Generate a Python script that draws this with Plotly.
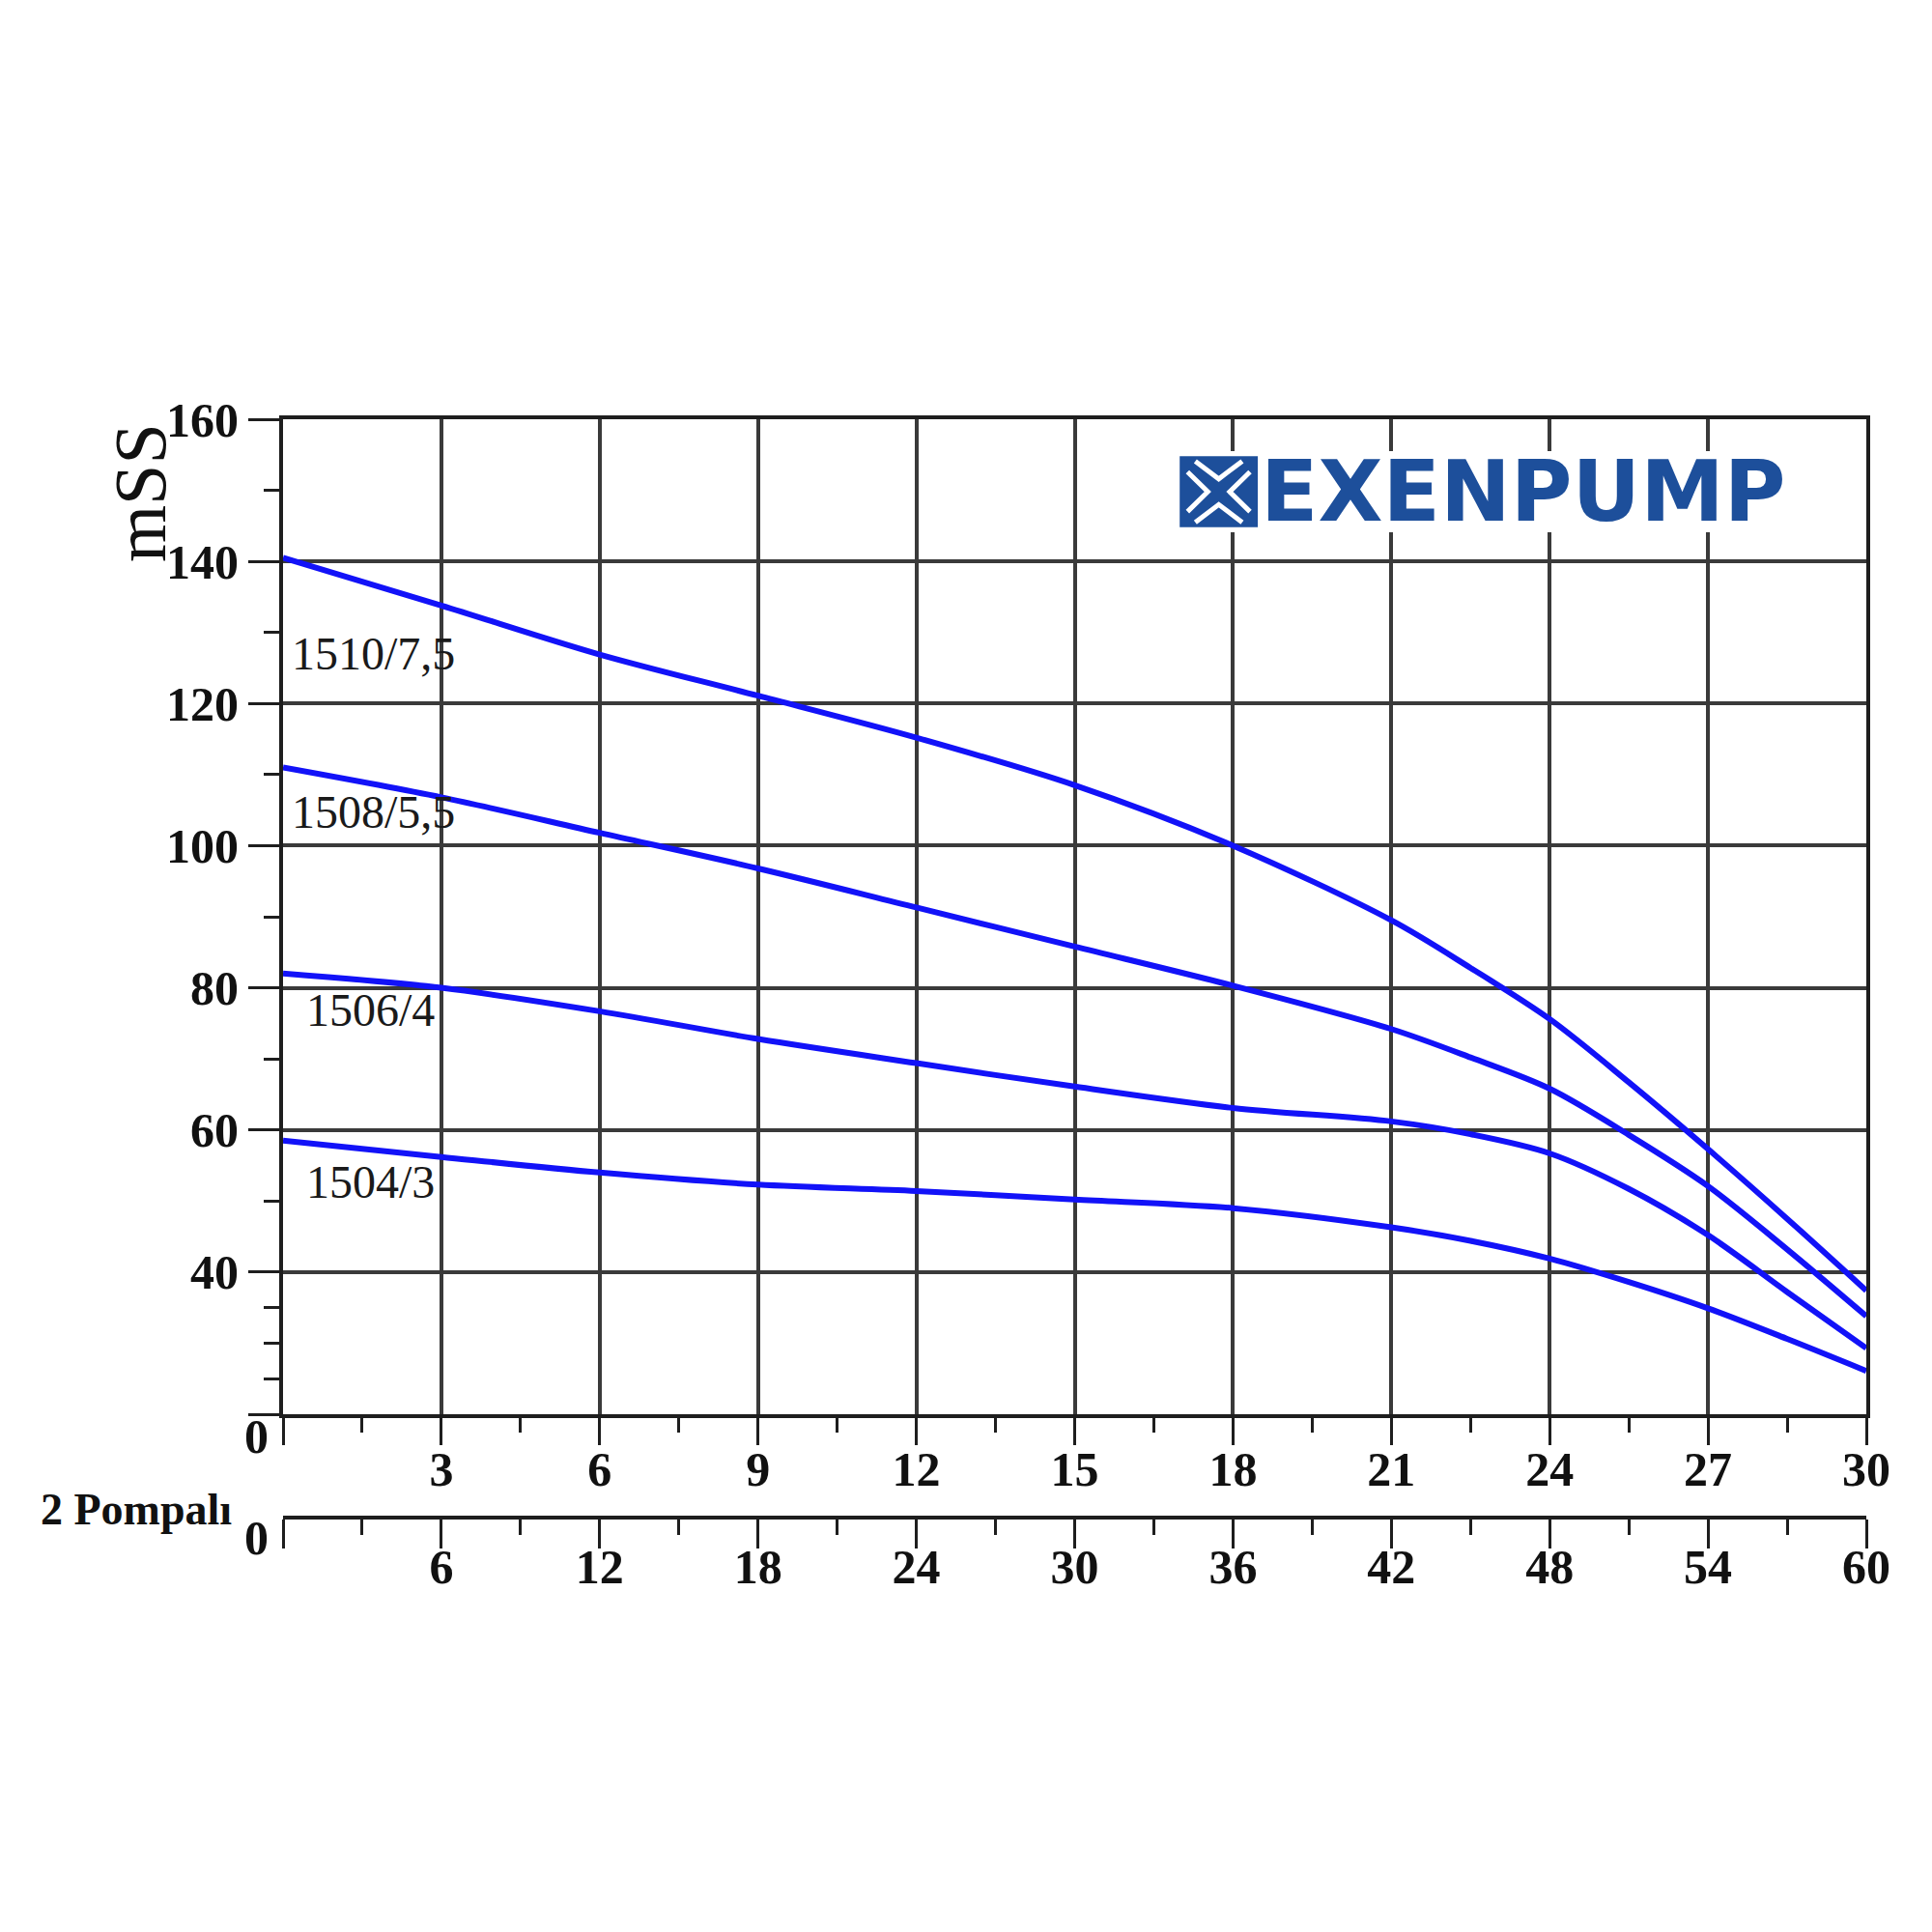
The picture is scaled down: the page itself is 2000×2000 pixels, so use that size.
import plotly.graph_objects as go

# ---------------- data ----------------
flow = [0, 3, 6, 9, 12, 15, 18, 21, 22.5, 24, 25.5, 27, 28.5, 30]          # m3/h (1 pump)
head_1510 = [140.5, 133.8, 126.9, 121.1, 115.2, 108.5, 100.0, 89.5, 82.8, 75.6, 66.7, 57.3, 47.5, 37.4]
head_1508 = [111.0, 106.8, 101.8, 96.8, 91.3, 85.8, 80.3, 74.2, 70.2, 65.8, 59.3, 52.1, 43.2, 33.8]
head_1506 = [82.0, 80.0, 76.7, 72.8, 69.4, 66.1, 63.1, 61.2, 59.4, 56.7, 51.7, 45.2, 37.2, 29.3]
head_1504 = [58.5, 56.2, 54.0, 52.3, 51.4, 50.2, 49.0, 46.3, 44.4, 41.9, 38.6, 34.9, 30.6, 26.1]

series_names = ["1510/7,5", "1508/5,5", "1506/4", "1504/3"]
series_values = [head_1510, head_1508, head_1506, head_1504]
label_pos = [(0.12, 127.0), (0.12, 104.8), (0.4, 76.9), (0.4, 52.7)]

x_ticks = [0, 3, 6, 9, 12, 15, 18, 21, 24, 27, 30]
x_minor = [1.5, 4.5, 7.5, 10.5, 13.5, 16.5, 19.5, 22.5, 25.5, 28.5]
x2_ticks = [0, 6, 12, 18, 24, 30, 36, 42, 48, 54, 60]
x2_minor = [3, 9, 15, 21, 27, 33, 39, 45, 51, 57]
y_ticks = [20, 40, 60, 80, 100, 120, 140, 160]
y_minor = [25, 30, 35, 50, 70, 90, 110, 130, 150]

# ---------------- styles ----------------
BLUE = "#1212f8"
GRID = "#3a3a3a"
AX = "#1e1e1e"
SERIF = "Liberation Serif"
tickfont = dict(family=SERIF, size=50, color="#111111", weight="bold")

fig = go.Figure()
for name, vals in zip(series_names, series_values):
    fig.add_trace(go.Scatter(x=flow, y=vals, mode="lines", name=name,
                             line=dict(color=BLUE, width=6, shape="spline", smoothing=0.9),
                             showlegend=False, hoverinfo="skip"))

# helper trace so the second (2 pumps) axis is drawn
fig.add_trace(go.Scatter(x=[q * 2 for q in flow], y=head_1504, xaxis="x2", yaxis="y",
                         mode="none", showlegend=False, hoverinfo="skip"))

# labels of curves
for name, (lx, ly) in zip(series_names, label_pos):
    fig.add_annotation(x=lx, y=ly, xref="x", yref="y", text=name, showarrow=False,
                       xanchor="left", yanchor="middle",
                       font=dict(family=SERIF, size=48, color="#1a1a1a"))

# layout geometry (pixels in the final image; page body has an 8px margin)
OFF = 8
W = H = 2000
L, R, T = 293, 1932, 434
B_MAIN = 1464
B2 = 1571
paper_h = B2 - T
paper_w = R - L
ydom0 = (B2 - B_MAIN) / paper_h

def px(xp):
    return (xp - L) / paper_w

def py(yp):
    return (B2 - yp) / paper_h

def ann_paper(xp, yp, text, font, **kw):
    fig.add_annotation(x=px(xp), y=py(yp), xref="paper", yref="paper", text=text,
                       showarrow=False, font=font,
                       **{"xanchor": "center", "yanchor": "middle", **kw})

ann_paper(145, 510, "mSS", dict(family=SERIF, size=76, color="#111111"), textangle=-90)
ann_paper(265, 1487, "0", tickfont)
ann_paper(265, 1592, "0", tickfont)
ann_paper(242, 1562, "2 Pompalı", dict(family=SERIF, size=46, color="#111111", weight="bold"),
          xanchor="right")

# ---------------- logo ----------------
LOGO = "#1d4f9b"
shapes = [dict(type="rect", xref="x", yref="y", x0=16.82, x1=28.7, y0=144.1, y1=155.5,
               fillcolor="white", line=dict(width=0), layer="above")]
ix0, ix1, iy0, iy1 = 16.99, 18.47, 144.8, 154.8
shapes.append(dict(type="rect", xref="x", yref="y", x0=ix0, x1=ix1, y0=iy0, y1=iy1,
                   fillcolor=LOGO, line=dict(width=0), layer="above"))

def ip(u, v):
    return f"{ix0 + u * (ix1 - ix0)},{iy0 + v * (iy1 - iy0)}"

chevrons = [
    [(0.2, 0.93), (0.5, 0.68), (0.8, 0.93)],
    [(0.2, 0.07), (0.5, 0.32), (0.8, 0.07)],
    [(0.1, 0.78), (0.36, 0.5), (0.1, 0.22)],
    [(0.9, 0.78), (0.64, 0.5), (0.9, 0.22)],
]
for ch in chevrons:
    path = "M" + " L".join(ip(u, v) for u, v in ch)
    shapes.append(dict(type="path", xref="x", yref="y", path=path,
                       line=dict(color="white", width=5), layer="above"))

fig.add_annotation(x=23.5, y=149.8, xref="x", yref="y", text="EXENPUMP",
                   showarrow=False,
                   font=dict(family="DejaVu Sans", size=87, color=LOGO, weight="bold"))

fig.update_layout(
    width=W, height=H,
    margin=dict(l=L - OFF, r=W + OFF - R, t=T - OFF, b=H + OFF - B2, pad=0),
    paper_bgcolor="white", plot_bgcolor="white",
    showlegend=False,
    shapes=shapes,
    xaxis=dict(domain=[0, 1], range=[0, 30], anchor="y",
               tickmode="array", tickvals=x_ticks,
               ticktext=["" if v == 0 else str(v) for v in x_ticks],
               ticks="outside", ticklen=28, tickwidth=3, tickcolor=AX,
               tickfont=tickfont,
               minor=dict(tickmode="array", tickvals=x_minor, ticks="outside",
                          ticklen=15, tickwidth=3, tickcolor=AX, showgrid=False),
               showline=True, linewidth=4, linecolor=AX, mirror=True,
               showgrid=True, gridcolor=GRID, gridwidth=4, zeroline=False),
    xaxis2=dict(range=[0, 60], anchor="free", position=0, overlaying="x", side="bottom",
                tickmode="array", tickvals=x2_ticks,
                ticktext=["" if v == 0 else str(v) for v in x2_ticks],
                ticks="outside", ticklen=30, tickwidth=3, tickcolor=AX,
                tickfont=tickfont,
                minor=dict(tickmode="array", tickvals=x2_minor, ticks="outside",
                           ticklen=16, tickwidth=3, tickcolor=AX, showgrid=False),
                showline=True, linewidth=4, linecolor=AX,
                showgrid=False, zeroline=False),
    yaxis=dict(domain=[ydom0, 1], range=[20, 160], anchor="x",
               tickmode="array", tickvals=y_ticks,
               ticktext=["" if v == 20 else str(v) for v in y_ticks],
               ticks="outside", ticklen=32, tickwidth=3, tickcolor=AX,
               tickfont=tickfont,
               minor=dict(tickmode="array", tickvals=y_minor, ticks="outside",
                          ticklen=16, tickwidth=3, tickcolor=AX, showgrid=False),
               showline=True, linewidth=4, linecolor=AX, mirror=True,
               showgrid=True, gridcolor=GRID, gridwidth=4, zeroline=False),
)

try:
    fig.update_layout(xaxis_ticklabelstandoff=-18, xaxis2_ticklabelstandoff=-24)
except Exception:
    pass

fig.write_html("out.html")
